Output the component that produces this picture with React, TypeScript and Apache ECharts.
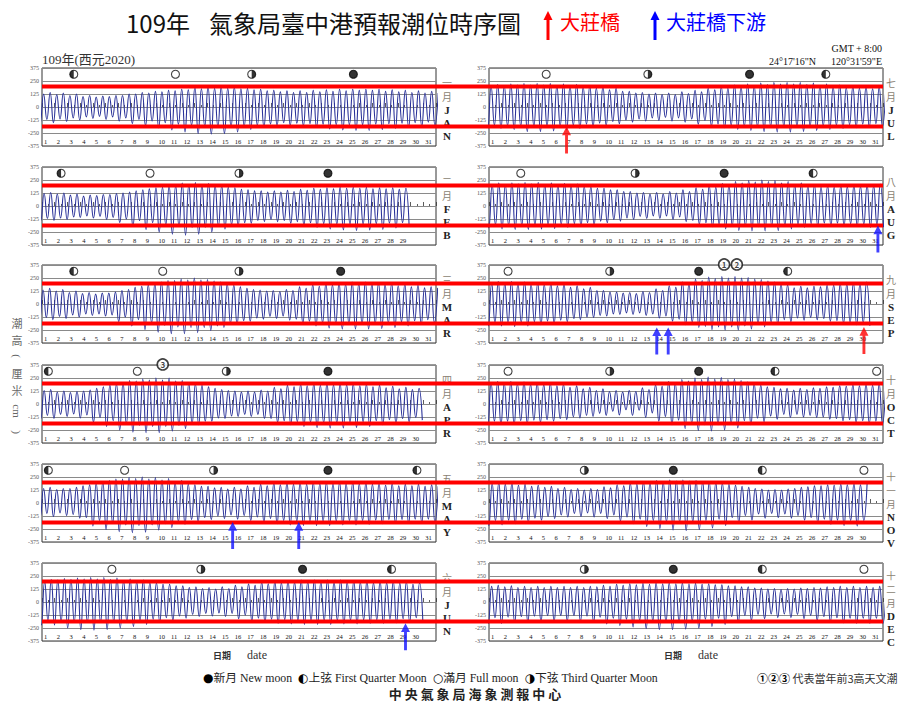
import React, { useEffect, useRef } from "react";
import * as echarts from "echarts";

// ---------------- data ----------------
const MONTH_ZH = ["一", "二", "三", "四", "五", "六", "七", "八", "九", "十", "十一", "十二"];
const MONTH_EN = ["JAN", "FEB", "MAR", "APR", "MAY", "JUN", "JUL", "AUG", "SEP", "OCT", "NOV", "DEC"];
const Y_MIN = -375;
const Y_MAX = 375;
const Y_STEP = 125;
const RED_LEVELS = [197, -187];
const TIDE_PERIOD_H = 12.42;
const FIRST_HIGH_H = [3, 4, 2, 4, 3, 5, 4, 6, 5, 4, 6, 5];

// daily higher high / lower high / higher low / lower low (cm)
const JAN_HH = [140,135,125,110,105,110,125,140,150,160,170,180,190,195,195,190,180,170,160,155,155,160,165,170,170,170,170,165,160,155,150];
const JAN_LH = [125,120,110,100,95,100,110,125,135,145,155,165,175,180,180,175,165,155,145,140,140,145,150,155,160,160,155,150,145,140,135];
const JAN_HL = [-120,-115,-105,-95,-90,-95,-105,-120,-135,-150,-165,-175,-185,-190,-190,-185,-175,-165,-155,-150,-155,-160,-165,-170,-170,-170,-165,-160,-155,-150,-145];
const JAN_LL = [-150,-140,-125,-110,-110,-120,-135,-160,-180,-200,-220,-240,-255,-260,-255,-240,-215,-195,-180,-175,-180,-195,-210,-220,-225,-225,-215,-205,-195,-185,-175];

const FEB_HH = [130,125,115,105,110,120,135,155,175,195,210,220,225,215,195,175,155,145,145,150,160,170,175,180,180,180,175,175,170];
const FEB_LH = [120,115,105,95,100,110,125,145,165,180,195,205,205,200,180,160,145,135,135,140,150,160,165,170,170,170,165,165,160];
const FEB_HL = [-120,-115,-105,-95,-100,-110,-125,-140,-160,-180,-195,-205,-205,-195,-180,-160,-140,-130,-130,-140,-150,-160,-170,-175,-175,-175,-170,-165,-160];
const FEB_LL = [-140,-130,-120,-110,-115,-130,-160,-195,-225,-250,-270,-280,-270,-250,-220,-190,-165,-150,-150,-165,-185,-205,-220,-230,-235,-230,-225,-210,-200];

const MAR_HH = [150,140,125,110,105,115,140,170,200,225,240,250,245,235,210,180,150,135,130,140,165,185,200,205,210,210,205,200,190,180,165];
const MAR_LH = [135,125,110,100,95,105,130,160,185,210,225,230,230,220,195,165,140,125,120,130,150,170,185,190,195,195,190,185,175,165,155];
const MAR_HL = [-130,-120,-105,-95,-95,-105,-125,-150,-180,-205,-220,-225,-225,-210,-185,-160,-135,-120,-115,-125,-145,-165,-180,-185,-190,-190,-185,-180,-170,-160,-150];
const MAR_LL = [-150,-140,-125,-110,-115,-135,-170,-210,-245,-270,-285,-285,-275,-255,-225,-195,-165,-145,-140,-155,-185,-210,-230,-240,-240,-240,-235,-225,-210,-195,-180];

const APR_HH = [140,125,120,135,165,195,225,240,250,250,240,225,195,165,140,125,125,135,160,180,190,195,200,200,195,190,180,170,160,150];
const APR_LH = [130,115,110,125,150,180,205,220,230,230,220,205,180,150,130,115,115,125,145,165,175,180,185,185,180,175,165,155,145,140];
const APR_HL = [-110,-100,-95,-105,-130,-160,-190,-205,-215,-215,-205,-190,-165,-135,-115,-100,-100,-115,-140,-160,-170,-175,-180,-180,-175,-170,-160,-150,-140,-130];
const APR_LL = [-140,-120,-115,-135,-175,-215,-250,-270,-275,-275,-260,-235,-200,-165,-140,-120,-120,-140,-175,-200,-215,-225,-230,-230,-225,-215,-200,-185,-170,-155];

const MAY_HH = [150,140,150,175,205,230,245,250,245,235,215,195,175,160,150,150,165,180,190,195,195,200,200,200,200,195,190,185,180,180,175];
const MAY_LH = [140,130,140,165,190,215,230,235,230,220,200,180,160,145,135,135,150,165,175,180,180,185,185,185,185,180,175,170,165,165,160];
const MAY_HL = [-100,-95,-110,-140,-170,-195,-210,-215,-210,-200,-180,-160,-140,-125,-115,-120,-135,-150,-165,-170,-175,-175,-175,-175,-170,-170,-165,-160,-160,-155,-155];
const MAY_LL = [-130,-120,-145,-180,-220,-255,-275,-285,-280,-260,-235,-205,-180,-160,-150,-155,-170,-185,-200,-210,-215,-215,-215,-210,-210,-205,-200,-195,-195,-190,-185];

const JUN_HH = [215,225,230,235,235,230,220,210,200,185,170,155,145,140,145,160,175,190,200,205,210,210,210,210,205,205,200,200,195,185];
const JUN_LH = [200,210,215,220,220,215,205,195,185,170,155,140,130,125,130,145,160,175,185,190,195,195,195,195,190,190,185,185,180,170];
const JUN_HL = [-175,-185,-190,-195,-195,-190,-185,-175,-165,-150,-135,-120,-110,-105,-110,-125,-140,-155,-165,-170,-175,-175,-175,-175,-175,-170,-170,-165,-160,-150];
const JUN_LL = [-220,-235,-250,-265,-270,-265,-250,-235,-215,-195,-175,-155,-140,-135,-140,-160,-180,-195,-205,-210,-215,-215,-215,-210,-210,-205,-205,-200,-195,-185];

const JUL_HH = [215,220,225,225,225,220,215,205,195,180,165,150,140,135,135,145,160,180,195,210,220,230,235,235,235,230,220,210,200,195,190];
const JUL_LH = [200,205,210,210,210,205,200,190,180,165,150,135,125,120,120,130,145,165,180,195,205,215,220,220,220,215,205,195,185,180,175];
const JUL_HL = [-175,-180,-185,-185,-185,-180,-175,-165,-155,-140,-125,-115,-105,-100,-105,-115,-130,-150,-165,-175,-185,-190,-190,-190,-190,-185,-180,-175,-170,-165,-160];
const JUL_LL = [-205,-215,-225,-235,-235,-230,-220,-205,-190,-175,-160,-145,-135,-130,-135,-145,-165,-185,-200,-215,-225,-235,-240,-240,-235,-225,-215,-205,-200,-195,-190];

const AUG_HH = [220,220,225,225,220,215,210,200,185,170,155,140,130,130,140,155,175,195,215,235,245,250,245,235,220,205,195,195,200,205,210];
const AUG_LH = [205,205,210,210,205,200,195,185,170,155,140,125,115,115,125,140,160,180,200,220,230,235,230,220,205,190,180,180,185,190,195];
const AUG_HL = [-180,-185,-185,-185,-180,-175,-170,-160,-145,-130,-115,-100,-95,-95,-105,-120,-140,-160,-175,-190,-195,-200,-195,-190,-180,-170,-165,-165,-170,-175,-180];
const AUG_LL = [-210,-220,-225,-225,-220,-215,-205,-195,-180,-160,-145,-130,-120,-120,-130,-150,-175,-200,-220,-235,-240,-240,-235,-220,-205,-195,-190,-190,-195,-200,-205];

const SEP_HH = [215,215,210,205,200,190,175,160,145,130,115,110,120,145,175,210,240,260,265,265,255,235,210,185,170,170,180,195,205,210];
const SEP_LH = [200,200,195,190,185,175,160,145,130,115,105,100,110,130,160,195,225,245,250,250,240,220,195,170,155,155,165,180,190,195];
const SEP_HL = [-180,-180,-175,-170,-165,-155,-140,-125,-110,-95,-85,-85,-95,-115,-145,-175,-200,-215,-220,-220,-210,-195,-175,-150,-135,-130,-140,-160,-175,-180];
const SEP_LL = [-210,-215,-215,-210,-200,-185,-170,-150,-130,-115,-100,-100,-110,-135,-165,-200,-225,-245,-250,-250,-240,-220,-195,-170,-155,-150,-165,-185,-200,-210];

const OCT_HH = [215,215,210,205,200,190,175,160,145,130,125,130,155,185,215,235,250,260,255,240,210,180,160,150,150,155,165,175,185,190,195];
const OCT_LH = [200,200,195,190,185,175,160,145,130,120,115,120,140,170,200,220,235,240,235,225,195,165,145,135,135,140,150,160,170,175,180];
const OCT_HL = [-165,-165,-160,-155,-150,-140,-125,-110,-90,-70,-55,-60,-85,-120,-155,-185,-200,-205,-200,-185,-160,-135,-115,-100,-100,-110,-125,-140,-150,-160,-165];
const OCT_LL = [-195,-195,-190,-185,-175,-165,-150,-135,-120,-110,-105,-110,-130,-165,-200,-235,-255,-260,-250,-230,-200,-170,-145,-130,-125,-130,-145,-160,-175,-185,-190];

const NOV_HH = [195,190,180,170,160,150,140,135,140,155,175,190,205,215,220,220,215,205,190,170,150,135,130,135,150,165,175,180,185,185];
const NOV_LH = [185,180,170,160,150,140,130,125,130,145,165,180,195,205,210,210,205,195,180,160,140,125,120,125,140,155,165,170,175,175];
const NOV_HL = [-170,-165,-155,-145,-130,-115,-100,-95,-100,-115,-135,-155,-170,-180,-185,-185,-180,-170,-155,-140,-120,-105,-100,-105,-120,-140,-155,-165,-170,-170];
const NOV_LL = [-215,-210,-200,-185,-165,-150,-135,-130,-135,-150,-175,-200,-225,-245,-260,-265,-255,-240,-215,-190,-165,-145,-140,-145,-165,-190,-205,-215,-220,-220];

const DEC_HH = [160,155,150,150,150,150,150,150,155,160,170,175,180,185,185,185,180,175,165,155,145,135,130,130,135,140,145,150,150,150,150];
const DEC_LH = [150,145,140,140,140,140,140,140,145,150,160,165,170,175,175,175,170,165,155,145,135,125,120,120,125,130,135,140,140,140,140];
const DEC_HL = [-150,-145,-140,-135,-130,-130,-130,-135,-145,-155,-165,-175,-180,-185,-185,-180,-175,-165,-155,-140,-130,-120,-115,-115,-120,-130,-140,-150,-155,-155,-155];
const DEC_LL = [-205,-200,-195,-190,-185,-180,-180,-185,-195,-210,-225,-240,-255,-265,-265,-260,-250,-235,-215,-195,-175,-160,-150,-150,-160,-175,-190,-200,-205,-205,-205];

const HH = [JAN_HH, FEB_HH, MAR_HH, APR_HH, MAY_HH, JUN_HH, JUL_HH, AUG_HH, SEP_HH, OCT_HH, NOV_HH, DEC_HH];
const LH = [JAN_LH, FEB_LH, MAR_LH, APR_LH, MAY_LH, JUN_LH, JUL_LH, AUG_LH, SEP_LH, OCT_LH, NOV_LH, DEC_LH];
const HL = [JAN_HL, FEB_HL, MAR_HL, APR_HL, MAY_HL, JUN_HL, JUL_HL, AUG_HL, SEP_HL, OCT_HL, NOV_HL, DEC_HL];
const LL = [JAN_LL, FEB_LL, MAR_LL, APR_LL, MAY_LL, JUN_LL, JUL_LL, AUG_LL, SEP_LL, OCT_LL, NOV_LL, DEC_LL];

// moon phases (date of month)
const NEW_MOON = [[25], [23], [24], [23], [23], [21], [21], [19], [17], [17], [15], [15]];
const FULL_MOON = [[11], [9], [10], [8], [7], [6], [5], [3], [2], [2, 31], [30], [30]];
const FIRST_QUARTER = [[3], [2], [3], [1], [1, 30], [28], [27], [26], [24], [23], [22], [22]];
const THIRD_QUARTER = [[17], [16], [16], [15], [14], [13], [13], [12], [10], [10], [8], [8]];

// three highest astronomical tides of the year
const TOP_MONTH = [8, 8, 3];
const TOP_DATE = [19, 20, 10];
const TOP_RANK = ["1", "2", "3"];

// annotation arrows (大莊橋 red / 大莊橋下游 blue)
const ARROW_MONTH = [6, 7, 8, 8, 8, 4, 4, 5];
const ARROW_DAY = [6.1, 30.6, 13.2, 14.1, 29.5, 15.0, 20.2, 28.6];
const ARROW_LEVEL = [-187, -187, -225, -225, -222, -183, -183, -205];
const ARROW_KIND = ["red", "blue", "blue", "blue", "red", "blue", "blue", "blue"];

// ---------------- layout / style ----------------
const COL_X = [42, 489];
const GRID_W = 394;
const ROW_TOP = [68, 167, 265, 365, 464, 563];
const GRID_H = 78;
const WAVE_COLOR = "#2a3299";
const RED = "#ff0000";
const BLUE = "#1010ff";
const SERIF = "'Liberation Serif', 'Times New Roman', 'Noto Sans CJK TC', serif";
const CJK = "'Noto Sans CJK TC', 'Noto Sans', sans-serif";
const ARROW_PATH = "path://M5 0 L10 9 L6.6 9 L6.6 28 L3.4 28 L3.4 9 L0 9 Z";
const LEFT_HALF = "path://M10 0 C4.477 0 0 4.477 0 10 C0 15.523 4.477 20 10 20 Z";
const RIGHT_HALF = "path://M0 0 C5.523 0 10 4.477 10 10 C10 15.523 5.523 20 0 20 Z";

function tidePoints(m: number): number[][] {
  const hh = HH[m], lh = LH[m], hl = HL[m], ll = LL[m];
  const n = hh.length;
  const half = TIDE_PERIOD_H / 2;
  const limit = n === 31 ? n * 24 + half : n * 24;
  const pts: number[][] = [];
  let t = FIRST_HIGH_H[m] - TIDE_PERIOD_H;
  let i = 0;
  while (t <= limit) {
    const d = Math.min(n - 1, Math.max(0, Math.floor(t / 24)));
    const isHigh = i % 2 === 0;
    const first = Math.floor(i / 2) % 2 === 0;
    const v = isHigh ? (first ? hh[d] : lh[d]) : (first ? ll[d] : hl[d]);
    pts.push([t / 24, v]);
    t += half;
    i++;
  }
  return pts;
}

function titleArrow(x: number, tipY: number, len: number, color: string) {
  return {
    type: "group",
    children: [
      { type: "polygon", shape: { points: [[x - 4.5, tipY + 9], [x, tipY], [x + 4.5, tipY + 9]] }, style: { fill: color } },
      { type: "rect", shape: { x: x - 1.5, y: tipY + 8, width: 3, height: len - 8 }, style: { fill: color } },
    ],
  };
}

function txt(x: number, y: number, text: string, size: number, family: string, fill: string, extra: any = {}) {
  return {
    type: "text", x, y, rotation: extra.rotation || 0,
    style: {
      text, fontSize: size, fontFamily: family, fill,
      fontWeight: extra.weight || "normal",
      textAlign: extra.align || "left", align: extra.align || "left",
      textVerticalAlign: "middle", verticalAlign: "middle",
      rich: extra.rich,
    },
  };
}

function buildOption() {
  const grid: any[] = [];
  const xAxis: any[] = [];
  const yAxis: any[] = [];
  const series: any[] = [];
  const graphic: any[] = [];

  for (let m = 0; m < 12; m++) {
    const col = m < 6 ? 0 : 1;
    const row = m % 6;
    const n = HH[m].length;
    grid.push({
      left: COL_X[col], top: ROW_TOP[row], width: GRID_W, height: GRID_H,
      show: true, borderColor: "#333", borderWidth: 1, backgroundColor: "transparent",
    });
    xAxis.push({
      gridIndex: m, type: "value", min: 0, max: 31, interval: 1,
      axisLine: { show: false },
      axisTick: { show: true, inside: true, length: 4, lineStyle: { color: "#333", width: 0.8 } },
      minorTick: { show: true, splitNumber: 2, length: 2, lineStyle: { color: "#333", width: 0.8 } },
      splitLine: { show: false },
      axisLabel: {
        inside: true, margin: 1, fontSize: 6.5, color: "#111", fontFamily: SERIF,
        align: "left", padding: [0, 0, 0, 2],
        formatter: (v: number) => (v >= 0 && v < n ? String(v + 1) : ""),
      },
    });
    yAxis.push({
      gridIndex: m, type: "value", min: Y_MIN, max: Y_MAX, interval: Y_STEP,
      axisLine: { show: false }, axisTick: { show: false },
      axisLabel: { fontSize: 6, color: "#555", margin: 3, fontFamily: SERIF },
      splitLine: { show: true, lineStyle: { color: "#8a8a8a", width: 1 } },
    });

    series.push({
      type: "line", xAxisIndex: m, yAxisIndex: m, data: tidePoints(m),
      showSymbol: false, symbol: "none", smooth: 0.5, silent: true, clip: true,
      lineStyle: { color: WAVE_COLOR, width: 1.1 }, z: 3,
    });

    // moon phases
    const circles: any[] = [];
    NEW_MOON[m].forEach((d) => circles.push({ value: [d - 0.5, 315], itemStyle: { color: "#000", borderColor: "#000" } }));
    FULL_MOON[m].forEach((d) => circles.push({ value: [d - 0.5, 315], itemStyle: { color: "#fff", borderColor: "#111" } }));
    FIRST_QUARTER[m].forEach((d) => circles.push({ value: [d - 0.5, 315], itemStyle: { color: "#fff", borderColor: "#111" } }));
    THIRD_QUARTER[m].forEach((d) => circles.push({ value: [d - 0.5, 315], itemStyle: { color: "#fff", borderColor: "#111" } }));
    series.push({
      type: "scatter", xAxisIndex: m, yAxisIndex: m, data: circles, symbol: "circle", symbolSize: 8,
      itemStyle: { borderWidth: 1.1 }, silent: true, clip: false, z: 6,
    });
    series.push({
      type: "scatter", xAxisIndex: m, yAxisIndex: m,
      data: FIRST_QUARTER[m].map((d) => [d - 0.5, 315]),
      symbol: LEFT_HALF, symbolSize: [4, 8], symbolOffset: [-2, 0],
      itemStyle: { color: "#000" }, silent: true, clip: false, z: 7,
    });
    series.push({
      type: "scatter", xAxisIndex: m, yAxisIndex: m,
      data: THIRD_QUARTER[m].map((d) => [d - 0.5, 315]),
      symbol: RIGHT_HALF, symbolSize: [4, 8], symbolOffset: [2, 0],
      itemStyle: { color: "#000" }, silent: true, clip: false, z: 7,
    });

    // top tides
    const tops: any[] = [];
    TOP_MONTH.forEach((mm, k) => { if (mm === m) tops.push({ value: [TOP_DATE[k] - 0.5, 380], name: TOP_RANK[k] }); });
    if (tops.length) {
      series.push({
        type: "scatter", xAxisIndex: m, yAxisIndex: m, data: tops, symbol: "circle", symbolSize: 11,
        itemStyle: { color: "#fff", borderColor: "#111", borderWidth: 1.6 }, silent: true, clip: false, z: 8,
        label: { show: true, position: "inside", formatter: (p: any) => p.name, fontSize: 8, fontWeight: "bold", color: "#111", fontFamily: CJK },
      });
    }

    // arrows
    const redA: number[][] = [];
    const blueA: number[][] = [];
    ARROW_MONTH.forEach((mm, k) => {
      if (mm !== m) return;
      (ARROW_KIND[k] === "red" ? redA : blueA).push([ARROW_DAY[k], ARROW_LEVEL[k]]);
    });
    [[redA, RED], [blueA, BLUE]].forEach(([arr, color]: any) => {
      if (!arr.length) return;
      series.push({
        type: "scatter", xAxisIndex: m, yAxisIndex: m, data: arr, symbol: ARROW_PATH,
        symbolSize: [9, 27], symbolOffset: [0, "50%"], itemStyle: { color }, silent: true, clip: false, z: 12,
      });
    });

    // month label on the right (one text per line)
    const zhChars = [...MONTH_ZH[m].split(""), "月"];
    const enChars = MONTH_EN[m].split("");
    const lx = col === 0 ? 447 : 891;
    const long = zhChars.length > 2;
    const zhStep = long ? 14 : 14.5;
    const zhSize = long ? 9.5 : 10;
    const y0 = ROW_TOP[row] + (long ? 12 : 14);
    zhChars.forEach((c, k) => {
      graphic.push(txt(lx, y0 + k * zhStep, c, zhSize, CJK, "#8a7f72", { align: "center" }));
    });
    const enStart = y0 + zhChars.length * zhStep - 1;
    enChars.forEach((c, k) => {
      graphic.push(txt(lx, enStart + k * 13, c, 11, SERIF, "#222", { align: "center", weight: "bold" }));
    });
  }

  // full-width red reference lines per row
  for (let r = 0; r < 6; r++) {
    const gi = 12 + r;
    grid.push({ left: COL_X[0], right: 898 - (COL_X[1] + GRID_W), top: ROW_TOP[r], height: GRID_H, show: false });
    xAxis.push({ gridIndex: gi, type: "value", min: 0, max: 1, show: false });
    yAxis.push({ gridIndex: gi, type: "value", min: Y_MIN, max: Y_MAX, show: false });
    RED_LEVELS.forEach((lvl) => {
      series.push({
        type: "line", xAxisIndex: gi, yAxisIndex: gi, data: [[0, lvl], [1, lvl]],
        symbol: "none", silent: true, lineStyle: { color: RED, width: 4 }, z: 10,
      });
    });
  }

  // title & header texts
  graphic.push(
    txt(126, 22, "109年", 24, CJK, "#111"),
    txt(209, 22, "氣象局臺中港預報潮位時序圖", 24, CJK, "#111"),
    titleArrow(548, 11, 29, RED),
    txt(560, 21, "大莊橋", 20, CJK, RED),
    titleArrow(655, 11, 29, "#0000ff"),
    txt(666, 21, "大莊橋下游", 20, CJK, "#0000ff"),
    txt(42, 59, "109年(西元2020)", 13, SERIF, "#333"),
    txt(882, 48, "GMT + 8:00", 10, SERIF, "#111", { align: "right" }),
    txt(882, 61, "24°17'16\"N      120°31'59\"E", 10, SERIF, "#111", { align: "right" }),
  );

  // y axis title (vertical)
  const yTitle = ["潮", "高", "(", "厘", "米", "cm", ")"];
  const yTitleY = [323, 340, 356, 373, 390, 411, 432];
  yTitle.forEach((c, k) => {
    const rot = c === "潮" || c === "高" || c === "厘" || c === "米" ? 0 : -Math.PI / 2;
    const fam = rot === 0 ? CJK : SERIF;
    graphic.push(txt(17, yTitleY[k], c, 11, fam, "#666", { align: "center", rotation: rot }));
  });

  // date labels
  [[213, 247], [664, 698]].forEach(([a, b]) => {
    graphic.push(txt(a, 655, "日期", 9, CJK, "#333", { weight: "bold" }));
    graphic.push(txt(b, 655, "date", 12, SERIF, "#333"));
  });

  // legend
  graphic.push(txt(203, 678,
    "{g|●}新月 New moon  {g|◐}上弦 First Quarter Moon  {g|○}滿月 Full moon  {g|◑}下弦 Third Quarter Moon",
    11.8, SERIF, "#222", { rich: { g: { fontSize: 12, fontFamily: "'DejaVu Sans'", fill: "#000" } } }));
  graphic.push(txt(757, 678, "{n|①②③} 代表當年前3高天文潮", 11, CJK, "#333",
    { rich: { n: { fontSize: 11, fontWeight: "bold", fill: "#000", fontFamily: CJK } } }));
  graphic.push(txt(475, 693, "中 央 氣 象 局 海 象 測 報 中 心", 13, CJK, "#222", { align: "center", weight: "bold" }));

  return { animation: false, backgroundColor: "#fff", grid, xAxis, yAxis, series, graphic };
}

export default function App() {
  const ref = useRef<HTMLDivElement>(null);
  useEffect(() => {
    if (!ref.current) return;
    const chart = echarts.init(ref.current, undefined, { renderer: "svg" });
    chart.setOption(buildOption() as any);
    return () => chart.dispose();
  }, []);
  return <div ref={ref} style={{ position: "absolute", left: 0, top: 0, width: 898, height: 702, background: "#fff" }} />;
}
